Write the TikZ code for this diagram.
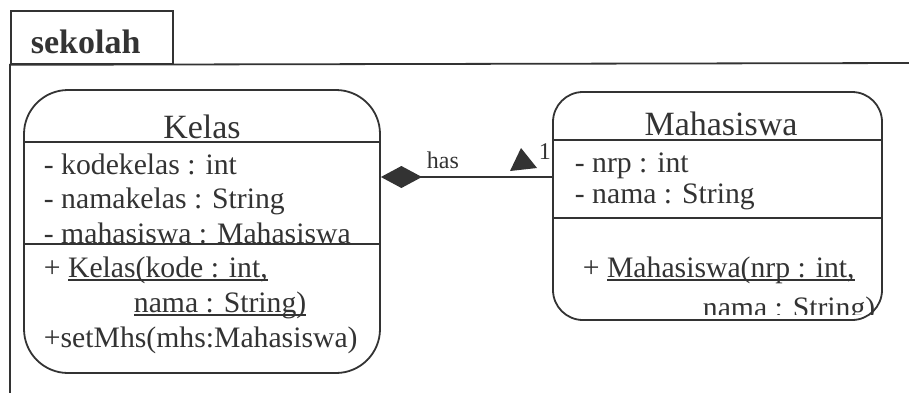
\documentclass[tikz,border=0pt]{standalone}
\usepackage{fontspec}
\setmainfont{Liberation Serif}
\usepackage{tikz}
\usetikzlibrary{arrows.meta}

\definecolor{umlgray}{RGB}{51,51,51}
\newcommand{\umlline}[1]{\setbox0\hbox{#1}\rlap{\rule[-4pt]{\wd0}{1.8pt}}\box0}

\begin{document}
\begin{tikzpicture}[x=1pt, y=-1pt, line width=1.8pt, draw=umlgray, text=umlgray,
    classbox/.style={draw, inner sep=0pt},
    title/.style={font=\fontsize{34}{40}\selectfont, anchor=base, inner sep=0pt},
    member/.style={font=\fontsize{29.7}{36}\selectfont, anchor=base west, inner sep=0pt},
    lbl/.style={font=\fontsize{24}{28}\selectfont, anchor=base west, inner sep=0pt}]
             \useasboundingbox (0,0) rectangle (909,392);

             % package frame
             \node[draw, anchor=north west, inner sep=0pt, minimum width=162pt, minimum height=53pt] (tab) at (10,10) {};
             \node[title, anchor=base west, font=\fontsize{34}{40}\selectfont\bfseries] (tabname) at (30,53) {sekolah};
             \draw (915,63) -- (tab.south west) -- (10,400);

             % Kelas
             \node[classbox, minimum width=356pt, minimum height=283pt, rounded corners=44pt] (kelas) at (202,231.5) {};
             \node[title] (kelasname) at (202,138) {Kelas};
             \draw (kelas.west |- 0,142) -- (kelas.east |- 0,142);
             \node[member] (kkode) at (43,174) {- kodekelas : int};
             \node[member] (knama) at (43,208) {- namakelas : String};
             \node[member] (kmhs) at (43,243) {- mahasiswa : Mahasiswa};
             \draw (kelas.west |- 0,244) -- (kelas.east |- 0,244);
             \node[member] (kctor) at (43,277) {+ \umlline{Kelas(kode : int,}};
             \node[member] (kctorb) at (133,312) {\umlline{nama : String)}};
             \node[member] (ksetmhs) at (43,347) {+setMhs(mhs:Mahasiswa)};

             % Mahasiswa
             \node[classbox, minimum width=329pt, minimum height=228pt, rounded corners=30pt] (mhs) at (717.5,206) {};
             \node[title] (mhsname) at (721,135) {Mahasiswa};
             \draw (mhs.west |- 0,140) -- (mhs.east |- 0,140);
             \node[member] (mnrp) at (574,172) {- nrp : int};
             \node[member] (mnama) at (574,203) {- nama : String};
             \draw (mhs.west |- 0,218) -- (mhs.east |- 0,218);
             \node[member] (mctor) at (582,277) {+ \umlline{Mahasiswa(nrp : int,}};
             \begin{scope}
               \clip (553,92) rectangle (882,314);
               \node[member] (mctorb) at (702,317) {\umlline{nama : String)}};
             \end{scope}

             % has
             \coordinate (hasrow) at (0,177);
             \draw[{Diamond[length=41pt,width=22pt]}-] (kelas.east |- hasrow) -- (mhs.west |- hasrow);
             \node[lbl] (haslbl) at (426,168) {has};
             \node[lbl] (mult) at (538,159) {1};
             \fill[umlgray] (521,148) -- (510,171) -- (537,168) -- cycle;
             \end{tikzpicture}
\end{document}
